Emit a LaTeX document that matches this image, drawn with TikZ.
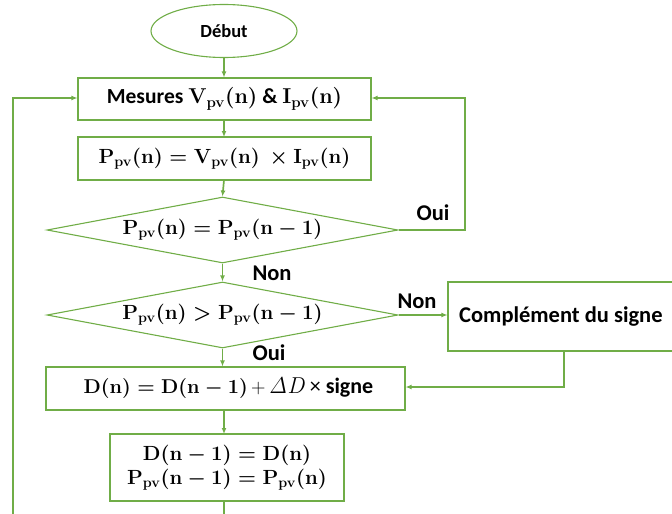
\RequirePackage{fix-cm}
\documentclass[tikz,border=0pt]{standalone}
\usepackage[no-math]{fontspec}
\setmainfont{Carlito}
\usetikzlibrary{shapes.geometric,arrows.meta}
\definecolor{gr}{RGB}{112,173,71}
\tikzset{
  box/.style={draw=gr, line width=1.1pt, rectangle, inner sep=0pt, font=\fontsize{20.5}{24}\selectfont\bfseries\boldmath},
  plainbox/.style={draw=gr, line width=1.1pt, rectangle, inner sep=0pt, font=\fontsize{20}{24}\selectfont\bfseries},
  dia/.style={draw=gr, line width=1.1pt, diamond, inner sep=0pt, shape aspect=5.32, minimum width=351pt, minimum height=66pt, font=\fontsize{20.5}{24}\selectfont\bfseries\boldmath},
  conn/.style={draw=gr, line width=1.7pt, -{Latex[length=6pt,width=5pt]}},
  line/.style={draw=gr, line width=1.7pt},
  lab/.style={font=\fontsize{22.5}{26}\selectfont\bfseries, inner sep=0pt}
}
\begin{document}
\begin{tikzpicture}[x=1pt,y=-1pt]
\useasboundingbox (0,0) rectangle (672,514);
\clip (0,0) rectangle (672,514);
\node[draw=gr, line width=1.1pt, ellipse, minimum width=146pt, minimum height=53pt, inner sep=0pt, font=\fontsize{18.5}{22}\selectfont\bfseries] (debut) at (224,31) {Début};
\node[box, minimum width=293pt, minimum height=42pt, font=\fontsize{21.5}{24}\selectfont\bfseries\boldmath] (mes) at (224.5,99) {Mesures $\mathbf{V_{pv}(n)}$ \& $\mathbf{I_{pv}(n)}$};
\node[box, minimum width=293pt, minimum height=43pt] (pcalc) at (224.5,158.5) {$\mathbf{P_{pv}(n) = V_{pv}(n)\ \times I_{pv}(n)}$};
\node[dia] (d1) at (222.5,230) {$\mathbf{P_{pv}(n) = P_{pv}(n-1)}$};
\node[dia] (d2) at (222.5,315) {$\mathbf{P_{pv}(n) > P_{pv}(n-1)}$};
\node[plainbox, minimum width=252pt, minimum height=69pt] (comp) at (574,316.5) {};
\node[lab, anchor=west] (comptext) at (459,317) {Complément du signe};
\node[plainbox, minimum width=359pt, minimum height=43pt] (dbox) at (225.5,388.5) {\hspace*{6pt}{\boldmath$\mathbf{D(n) = D(n-1)}$}\,$+$\,{\fontsize{23}{26}\selectfont$\mathit{\Delta D}$}\,{\fontsize{22}{26}\selectfont{\mdseries ×} signe}};
\node[box, minimum width=234pt, minimum height=67pt, align=center, font=\fontsize{20.5}{24}\selectfont\bfseries\boldmath] (last) at (227,467.5) {$\mathbf{D(n-1) = D(n)}$\\$\mathbf{P_{pv}(n-1) = P_{pv}(n)}$};
\node[lab] (oui1) at (433,213) {Oui};
\node[lab] (non1) at (272,273) {Non};
\node[lab] (non2) at (417,301) {Non};
\node[lab] (oui2) at (269,353) {Oui};
\coordinate (bot) at (224,520);
\coordinate (lb) at (13,520);
\coordinate (lt) at (13,98);
\coordinate (rb) at (465,230);
\coordinate (rt) at (465,98);
\coordinate (cb) at (564,351);
\coordinate (cc) at (564,387);
\draw[conn] (debut.south) -- (debut.south |- mes.north);
\draw[conn] (224,120) -- (224,137);
\draw[conn] (224,180) -- (d1.north);
\draw[conn] (d1.south) -- (d2.north);
\draw[conn] (d2.south) -- (dbox.north -| d2.south);
\draw[conn] (224,410) -- (224,434);
\draw[line] (224,501) -- (bot);
\draw[conn] (lb) -- (lt) -- (mes.west |- lt);
\draw[conn] (d1.east) -- (rb) -- (rt) -- (mes.east |- rt);
\draw[conn] (d2.east) -- (comp.west |- d2.east);
\draw[conn] (cb) -- (cc) -- (dbox.east |- cc);
\end{tikzpicture}
\end{document}
